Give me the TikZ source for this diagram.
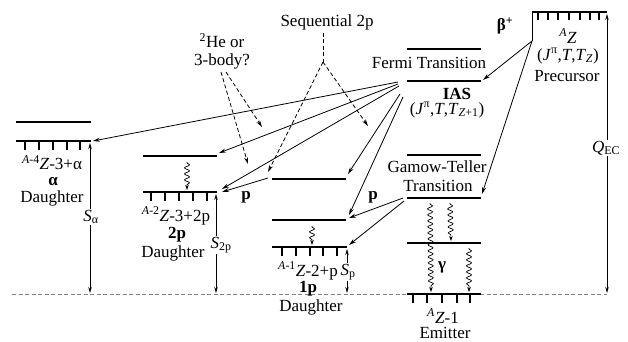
\documentclass[tikz,border=0pt]{standalone}
\usepackage{fontspec}
\setmainfont{Liberation Serif}
\usetikzlibrary{arrows.meta,decorations.pathmorphing}
\begin{document}
\begin{tikzpicture}[x=1pt,y=-1pt,
  lvl/.style={line width=1.8pt},
  gnd/.style={line width=2.4pt},
  tk/.style={line width=1.8pt},
  conn/.style={line width=0.8pt,-{Stealth[length=7pt,width=4pt]}},
  dconn/.style={conn,dash pattern=on 4pt off 2.5pt},
  dline/.style={line width=0.8pt,dash pattern=on 4pt off 2.5pt},
  wavy/.style={line width=0.7pt,-{Stealth[length=5pt,width=3.5pt]},decorate,
     decoration={snake,amplitude=2.5pt,segment length=6pt,pre length=1pt,post length=4pt}},
  dimarrow/.style={line width=0.8pt,{Stealth[length=6pt,width=3.5pt]}-{Stealth[length=6pt,width=3.5pt]}},
  txt/.style={font=\fontsize{17}{19}\selectfont,inner sep=0pt},
  btxt/.style={txt,font=\fontsize{17}{19}\selectfont\bfseries},
  slab/.style={txt,fill=white,inner sep=1pt},
  ]
\useasboundingbox (0,0) rectangle (628,342);

% baseline
\coordinate (bl1) at (12,294);
\coordinate (bl2) at (607,294);
\draw[dline,gray] (bl1) -- (bl2);

% ---- levels ----
% alpha daughter
\draw[lvl] (16,122) -- (91,122);
\draw[gnd] (16,141) -- (91,141);
\foreach \x in {25,39,53,67,80} \draw[tk] (\x,141) -- (\x,150);
% 2p daughter
\draw[lvl] (143,156) -- (217,156);
\draw[gnd] (143,192) -- (217,192);
\foreach \x in {151,165,179,193,207} \draw[tk] (\x,192) -- (\x,201);
% 1p daughter
\draw[lvl] (272,179) -- (346,179);
\draw[lvl] (272,220) -- (346,220);
\draw[gnd] (272,247) -- (347,247);
\foreach \x in {282,296,310,323,337} \draw[tk] (\x,247) -- (\x,256);
% Fermi / IAS
\draw[lvl] (407,49) -- (481,49);
\draw[lvl] (407,81) -- (481,81);
% Gamow-Teller
\draw[lvl] (407,155) -- (481,155);
\draw[lvl] (407,198) -- (481,198);
\draw[lvl] (407,243) -- (481,243);
% emitter
\draw[gnd] (407,294) -- (481,294);
\foreach \x in {413,427,442,457,470} \draw[tk] (\x,294) -- (\x,303);
% precursor
\draw[gnd] (532,12) -- (607,12);
\foreach \x in {538,548,558,569,580,590,599} \draw[tk] (\x,12) -- (\x,20);
\coordinate (Ptop) at (532,12);
\coordinate (P) at (532,41);
\draw[line width=0.8pt] (Ptop) -- (P);

% ---- connector end points ----
\coordinate (F1) at (398,82);
\coordinate (F2) at (398,84);
\coordinate (F3) at (399,86);
\coordinate (F4) at (400,94);
\coordinate (F5) at (403,97);
\coordinate (G1) at (403,198);
\coordinate (G2) at (404,201);
\coordinate (aGr) at (93,141);
\coordinate (tpUr) at (219,153);
\coordinate (tpGr) at (222,189);
\coordinate (tpGr2) at (222,192);
\coordinate (opTl) at (268,178);
\coordinate (opTr) at (348,174);
\coordinate (opMr) at (349,215);
\coordinate (opMr2) at (349,218);
\coordinate (opGr) at (349,245);
\coordinate (iasR) at (483,80);
\coordinate (gtR) at (482,194);

% solid proton / beta arrows
\draw[conn] (F1) -- (aGr);
\draw[conn] (F2) -- (tpUr);
\draw[conn] (F3) -- (tpGr);
\draw[conn] (F4) -- (opTr);
\draw[conn] (F5) -- (opMr);
\draw[conn] (opTl) -- (tpGr2);
\draw[conn] (G1) -- (opMr2);
\draw[conn] (G2) -- (opGr);
\draw[conn] (P) -- (iasR);
\draw[conn] (P) -- (gtR);

% dashed pointers
\coordinate (heA) at (221,72);
\coordinate (heB) at (226,72);
\coordinate (heT1) at (248,164);
\coordinate (heT2) at (262,127);
\coordinate (sqTop) at (323,33);
\coordinate (sqJ) at (323,62);
\coordinate (sqT1) at (268,172);
\coordinate (sqT2) at (368,126);
\draw[dconn] (heA) -- (heT1);
\draw[dconn] (heB) -- (heT2);
\draw[dline] (sqTop) -- (sqJ);
\draw[dconn] (sqJ) -- (sqT1);
\draw[dconn] (sqJ) -- (sqT2);

% gamma cascades
\coordinate (w1a) at (187,162); \coordinate (w1b) at (187,190);
\coordinate (w2a) at (312,226); \coordinate (w2b) at (312,245);
\coordinate (w3a) at (430,203); \coordinate (w3b) at (431,292);
\coordinate (w4a) at (450,203); \coordinate (w4b) at (451,241);
\coordinate (w5a) at (469,248); \coordinate (w5b) at (469,292);
\draw[wavy] (w1a) -- (w1b);
\draw[wavy] (w2a) -- (w2b);
\draw[wavy] (w3a) -- (w3b);
\draw[wavy] (w4a) -- (w4b);
\draw[wavy] (w5a) -- (w5b);

% separation energies
\coordinate (sa1) at (90,143); \coordinate (sa2) at (90,293);
\coordinate (s21) at (216,194); \coordinate (s22) at (216,293);
\coordinate (sp1) at (347,249); \coordinate (sp2) at (347,293);
\coordinate (q1) at (607,14); \coordinate (q2) at (607,293);
\draw[dimarrow] (sa1) -- (sa2);
\draw[dimarrow] (s21) -- (s22);
\draw[dimarrow] (sp1) -- (sp2);
\draw[dimarrow] (q1) -- (q2);
\node[slab] (Sa) at (91,217) {\textit{S}\textsubscript{α}};
\node[slab] (S2p) at (221,245) {\textit{S}\textsubscript{2p}};
\node[slab] (Sp) at (348,272) {\textit{S}\textsubscript{p}};
\node[slab] (Qec) at (606,148) {\textit{Q}\textsubscript{EC}};

% ---- texts ----
\node[txt] (aName) at (52,163) {\textsuperscript{\textit{A}-4}\textit{Z}-3+α};
\node[btxt] (aBold) at (53,182) {α};
\node[txt] (aDau) at (52,198) {Daughter};

\node[txt] (tpName) at (176,216) {\textsuperscript{\textit{A}-2}\textit{Z}-3+2p};
\node[btxt] (tpBold) at (177,235) {2p};
\node[txt] (tpDau) at (173,253) {Daughter};

\node[txt] (opName) at (308,271) {\textsuperscript{\textit{A}-1}\textit{Z}-2+p};
\node[btxt] (opBold) at (308,289) {1p};
\node[txt] (opDau) at (311,307) {Daughter};

\node[btxt] (p1) at (246,197) {p};
\node[btxt] (p2) at (373,197) {p};

\node[txt] (fermi) at (429,63) {Fermi Transition};
\node[btxt] (ias) at (457,94) {IAS};
\node[txt] (iasq) at (447,110) {(\textit{J}\textsuperscript{π},\textit{T},\textit{T}\textsubscript{\textit{Z}+1})};

\node[txt] (gt1) at (437,167) {Gamow-Teller};
\node[txt] (gt2) at (438,186) {Transition};
\node[btxt] (gam) at (442,267) {γ};

\node[txt] (emN) at (443,316) {\textsuperscript{\textit{A}}\textit{Z}-1};
\node[txt] (emD) at (445,333) {Emitter};

\node[btxt] (beta) at (505,26) {β\textsuperscript{+}};
\node[txt] (prN) at (568,36) {\textsuperscript{\textit{A}}\textit{Z}};
\node[txt] (prQ) at (568,56) {(\textit{J}\textsuperscript{π},\textit{T},\textit{T}\textsubscript{\textit{Z}})};
\node[txt] (prD) at (567,76) {Precursor};

\node[txt] (seq) at (327,22) {Sequential 2p};
\node[txt] (he1) at (222,41) {\textsuperscript{2}He or};
\node[txt] (he2) at (222,61) {3-body?};
\end{tikzpicture}
\end{document}
